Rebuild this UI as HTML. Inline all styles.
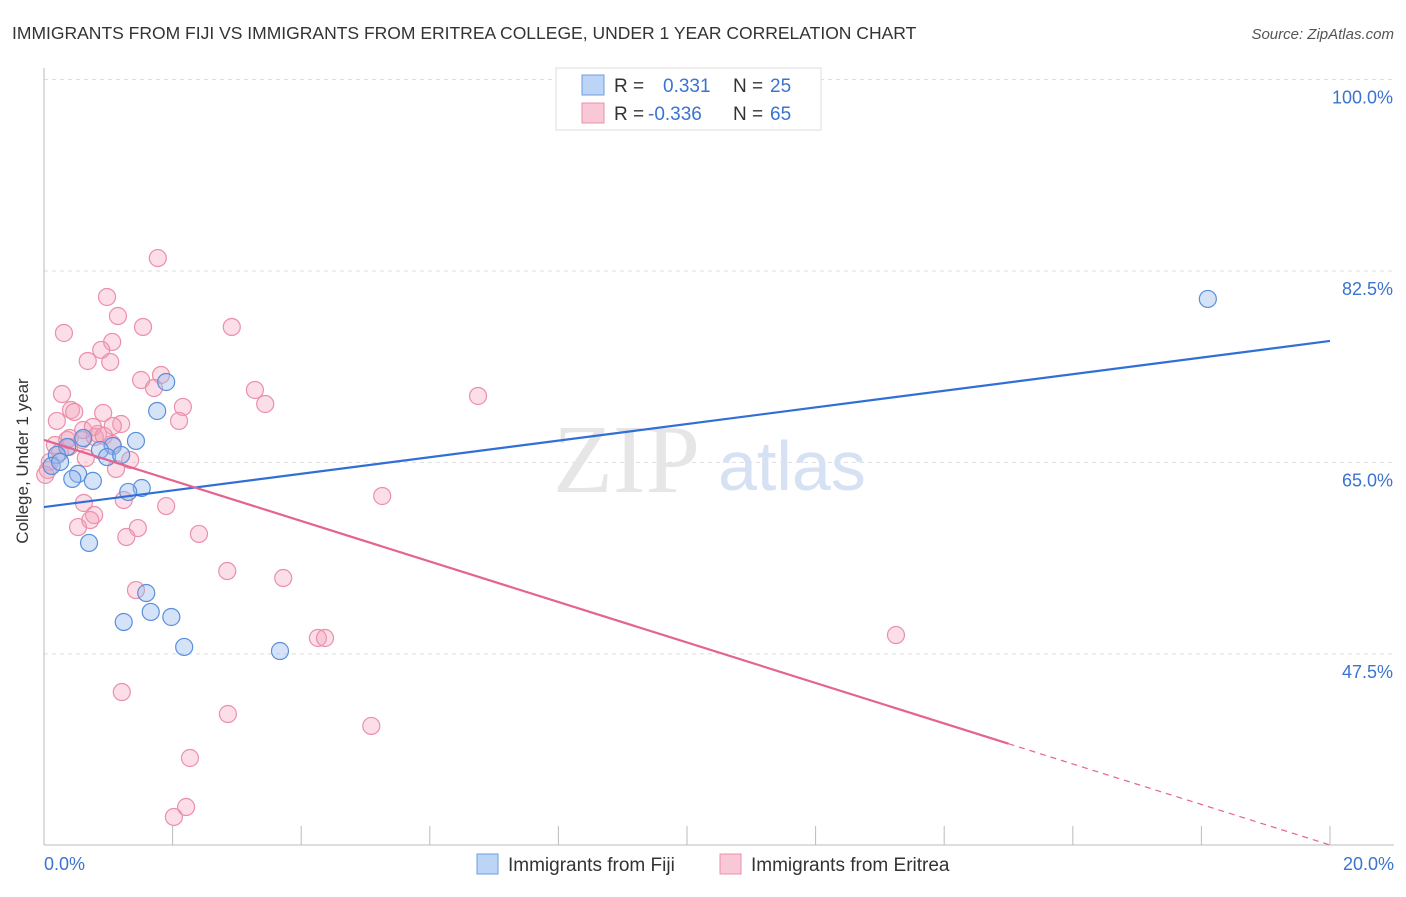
<!DOCTYPE html>
<html><head><meta charset="utf-8"><style>
body{margin:0;background:#fff;font-family:"Liberation Sans",sans-serif}
svg text{font-family:"Liberation Sans",sans-serif}
</style></head><body>
<svg width="1406" height="892" xmlns="http://www.w3.org/2000/svg">
<text x="12" y="39" font-size="17.5" fill="#333">IMMIGRANTS FROM FIJI VS IMMIGRANTS FROM ERITREA COLLEGE, UNDER 1 YEAR CORRELATION CHART</text>
<text x="1394" y="39" font-size="15" fill="#555" text-anchor="end" font-style="italic">Source: ZipAtlas.com</text>
<g id="grid"></g>
<text x="553" y="492" font-size="98" fill="#e6e6e6" font-family="Liberation Serif" style="font-family:'Liberation Serif',serif">ZIP</text>
<text x="718" y="490" font-size="70" fill="#d6e2f3">atlas</text>
<line x1="44" y1="68" x2="44" y2="845" stroke="#bbb"/>
<line x1="44" y1="845" x2="1394" y2="845" stroke="#bbb"/>
<g id="xticks"></g>
<g id="pts"></g>
<g id="trends"></g>
<text x="22" y="455" font-size="17" fill="#333" transform="rotate(-90 28 455)" text-anchor="middle">College, Under 1 year</text>
<text x="44" y="870" font-size="18" fill="#3b73d0">0.0%</text>
<text x="1394" y="870" font-size="18" fill="#3b73d0" text-anchor="end">20.0%</text>
<g>
<rect x="556" y="68" width="265" height="62" fill="#fff" stroke="#ddd"/>
<rect x="582" y="75" width="22" height="20" fill="#bcd4f5" stroke="#6d9de0"/>
<rect x="582" y="103" width="22" height="20" fill="#f9c8d6" stroke="#ec90ad"/>
<text x="614" y="92" font-size="19" fill="#333">R = </text><text x="663" y="92" font-size="19" fill="#3b73d0">0.331</text>
<text x="733" y="92" font-size="19" fill="#333">N = </text><text x="770" y="92" font-size="19" fill="#3b73d0">25</text>
<text x="614" y="120" font-size="19" fill="#333">R = </text><text x="648" y="120" font-size="19" fill="#3b73d0">-0.336</text>
<text x="733" y="120" font-size="19" fill="#333">N = </text><text x="770" y="120" font-size="19" fill="#3b73d0">65</text>
</g>
<g>
<rect x="477" y="854" width="21" height="20" fill="#bcd4f5" stroke="#6d9de0"/>
<text x="508" y="871" font-size="19" fill="#333">Immigrants from Fiji</text>
<rect x="720" y="854" width="21" height="20" fill="#f9c8d6" stroke="#ec90ad"/>
<text x="751" y="871" font-size="19" fill="#333">Immigrants from Eritrea</text>
</g>
</svg>
<script>
const yTicks=[100,82.5,65,47.5];
const yTickLabels=["100.0%","82.5%","65.0%","47.5%"];
const xTicks=[0,2,4,6,8,10,12,14,16,18,20];
const fijiX=[18.10,1.90,1.76,1.43,1.07,0.87,0.98,1.20,0.61,0.36,0.20,0.12,0.53,0.76,0.44,1.52,1.31,0.70,1.59,1.66,1.24,1.98,2.18,3.67,0.25];
const fijiY=[79.94,72.35,69.70,66.96,66.50,66.13,65.49,65.68,67.23,66.41,65.68,64.68,63.95,63.31,63.49,62.66,62.30,57.64,53.06,51.33,50.41,50.87,48.13,47.76,65.04];
const eriX=[1.77,0.98,1.15,0.31,1.54,2.92,1.06,0.89,0.68,1.03,1.51,1.82,1.71,3.28,3.44,2.16,2.10,0.28,0.42,0.47,0.92,1.20,0.84,0.59,0.36,1.06,0.20,6.75,5.26,0.62,1.24,1.90,0.78,0.53,0.72,1.46,1.28,2.41,1.43,2.85,3.72,4.26,4.37,13.25,1.21,2.86,5.09,2.27,2.21,2.02,1.12,1.07,0.65,0.40,0.09,0.06,0.17,0.79,0.61,1.34,0.25,0.76,0.93,0.39,0.02];
const eriY=[83.68,80.12,78.38,76.83,77.38,77.38,76.01,75.28,74.27,74.18,72.53,72.99,71.80,71.62,70.34,70.07,68.79,71.25,69.79,69.61,69.52,68.51,67.60,67.05,67.05,66.68,68.79,71.07,61.93,61.29,61.56,61.01,60.19,59.09,59.73,59.00,58.18,58.46,53.33,55.07,54.43,48.95,48.95,49.22,44.01,42.00,40.91,37.98,33.50,32.59,64.40,68.33,65.40,67.23,65.04,64.31,66.59,67.32,67.96,65.22,65.95,68.24,67.42,66.41,63.86];
const fijiTrend=[60.92,76.10];
const eriTrend=[67.05,30.03];
const eriSolidEnd=15.0;
const NS="http://www.w3.org/2000/svg";
function sx(v){return 44+(v/20)*1286;}
function sy(v){return 79.5+(100-v)*10.94;}
function mk(t,a,p){const e=document.createElementNS(NS,t);for(const k in a)e.setAttribute(k,a[k]);p.appendChild(e);return e;}
const grid=document.getElementById('grid');
yTicks.forEach((t,i)=>{
 const l=mk('line',{x1:44,x2:1394,y1:sy(t),y2:sy(t),stroke:'#ddd','stroke-dasharray':'4,4'},grid);
 
 
 const tx=mk('text',{x:1393,y:sy(t)+24,'font-size':18,fill:'#3b73d0','text-anchor':'end'},grid);
 tx.textContent=yTickLabels[i];
 
 
});
const xt=document.getElementById('xticks');
xTicks.forEach(t=>{
 const l=mk('line',{x1:sx(t),x2:sx(t),y1:826,y2:845,stroke:'#bbb'},xt);
 
 
});
const pts=document.getElementById('pts');
eriX.forEach((x,i)=>{
 const c=mk('circle',{cx:sx(x),cy:sy(eriY[i]),r:8.5,fill:'rgba(244,160,186,0.35)',stroke:'#eb8fab','stroke-width':1.2},pts);
 
 
});
fijiX.forEach((x,i)=>{
 const c=mk('circle',{cx:sx(x),cy:sy(fijiY[i]),r:8.5,fill:'rgba(150,186,238,0.4)',stroke:'#5a8fdc','stroke-width':1.2},pts);
 
 
});
const tr=document.getElementById('trends');
const fl=mk('line',{x1:sx(0),y1:sy(fijiTrend[0]),x2:sx(20),y2:sy(fijiTrend[1]),stroke:'#2f6fd6','stroke-width':2.2},tr);


const ey=v=>eriTrend[0]+(eriTrend[1]-eriTrend[0])*v/20;
const el1=mk('line',{x1:sx(0),y1:sy(eriTrend[0]),x2:sx(eriSolidEnd),y2:sy(ey(eriSolidEnd)),stroke:'#e4648f','stroke-width':2.2},tr);


const el2=mk('line',{x1:sx(eriSolidEnd),y1:sy(ey(eriSolidEnd)),x2:sx(20),y2:sy(eriTrend[1]),stroke:'#e4648f','stroke-width':1.2,'stroke-dasharray':'6,5'},tr);


</script>
</body></html>
